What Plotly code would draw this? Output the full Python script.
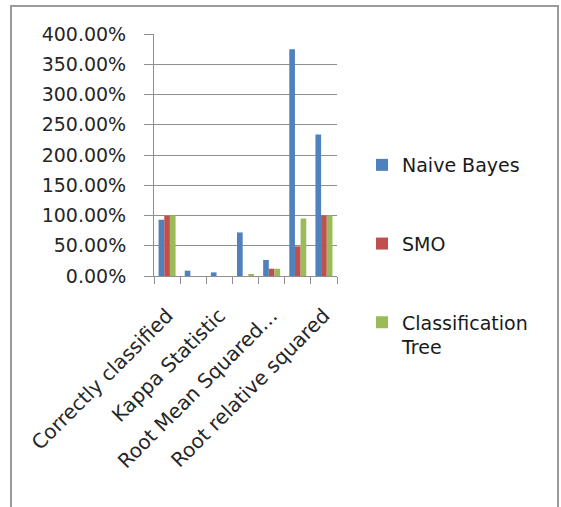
import plotly.graph_objects as go

categories = ["Correctly classified", "Incorrectly classified", "Kappa Statistic",
              "Mean Absolute Error", "Root Mean Squared Error",
              "Relative absolute error", "Root relative squared"]
shown_labels = ["Correctly classified", "Kappa Statistic", "Root Mean Squared…", "Root relative squared"]
shown_idx = [0, 2, 4, 6]

naive_bayes = [0.93, 0.088, 0.06, 0.72, 0.265, 3.75, 2.34]
smo = [0.995, 0.0, 0.0, 0.0, 0.12, 0.49, 1.0]
class_tree = [1.0, 0.0, 0.0, 0.03, 0.12, 0.95, 1.0]

series = [("Naive Bayes", naive_bayes, "#4F81BD"),
          ("SMO", smo, "#C0504D"),
          ("Classification<br>Tree", class_tree, "#9BBB59")]

W, H = 561, 507
L, R, T, B = 154, 224, 34, 231
pw, ph = W - L - R, H - T - B

fig = go.Figure()
for i, (name, vals, col) in enumerate(series):
    fig.add_trace(go.Bar(x=categories, y=vals, name=name, marker_color=col,
                         marker_line_width=0, legendgroup=f"g{i}"))
fig.add_trace(go.Scatter(x=[], y=[], xaxis="x2", showlegend=False))

font = dict(family="DejaVu Sans", size=19, color="#262626")
xfont = dict(family="DejaVu Sans", size=20, color="#262626")
grid = "#8f8f8f"

fig.update_layout(
    width=W, height=H,
    margin=dict(l=L, r=R, t=T, b=B, autoexpand=False),
    paper_bgcolor="white", plot_bgcolor="white",
    barmode="group", bargap=0.35, bargroupgap=0,
    font=font,
    xaxis=dict(type="category", categoryorder="array", categoryarray=categories,
               tickvals=[categories[i] for i in shown_idx], ticktext=shown_labels,
               tickangle=-45, ticks="", showline=True, linecolor=grid, linewidth=1,
               showgrid=False, ticklabelstandoff=19, tickfont=xfont),
    xaxis2=dict(overlaying="x", anchor="y", side="bottom", range=[-0.5, 6.5],
                tickvals=[k - 0.5 for k in range(len(categories) + 1)],
                ticks="outside", ticklen=7, tickcolor=grid, tickwidth=1,
                showticklabels=False, showgrid=False, zeroline=False, showline=False),
    yaxis=dict(range=[0, 4], dtick=0.5, tickformat=".2%", showgrid=True,
               gridcolor=grid, gridwidth=1, ticks="outside", ticklen=9,
               tickcolor=grid, showline=True, linecolor=grid, linewidth=1,
               zeroline=False, ticklabelstandoff=14, tickfont=font),
    legend=dict(x=(362 - L) / pw, y=(276 - 146) / ph, xanchor="left", yanchor="top",
                traceorder="grouped", tracegroupgap=51, valign="top",
                font=dict(family="DejaVu Sans", size=19, color="#1a1a1a"),
                bgcolor="rgba(0,0,0,0)"),
    shapes=[dict(type="rect", xref="paper", yref="paper",
                 x0=(11 - L) / pw, x1=(558 - L) / pw,
                 y0=(276 - 520) / ph, y1=(276 - 6) / ph,
                 line=dict(color="#9a9a9a", width=2), fillcolor="rgba(0,0,0,0)",
                 layer="below")],
)

fig.write_html("out.html")
